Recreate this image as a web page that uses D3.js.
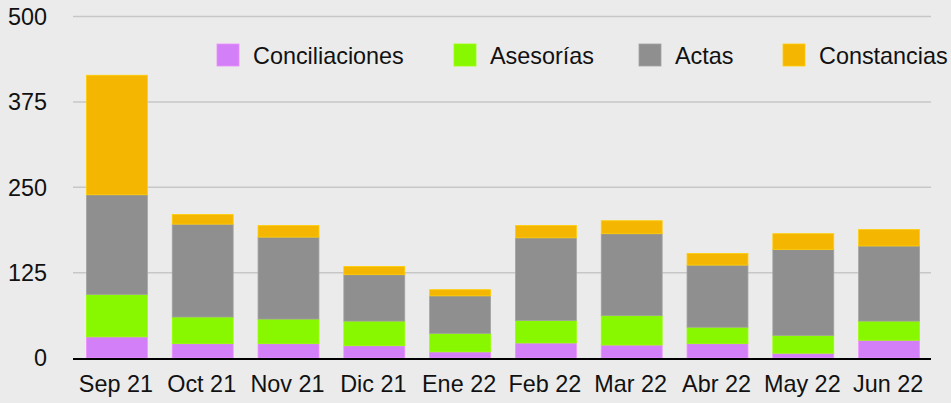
<!DOCTYPE html>
<html>
<head>
<meta charset="utf-8">
<script src="https://cdn.jsdelivr.net/npm/d3@7"></script>
<style>
  html, body { margin: 0; padding: 0; background: #ebebeb; }
  svg { display: block; }
</style>
</head>
<body>
<div id="chart"></div>
<script>
const months = ['Sep 21', 'Oct 21', 'Nov 21', 'Dic 21', 'Ene 22', 'Feb 22', 'Mar 22', 'Abr 22', 'May 22', 'Jun 22']
const seriesNames = ['Conciliaciones', 'Asesorías', 'Actas', 'Constancias']
const conciliaciones = [31, 21, 21, 18, 9, 22, 19, 21, 7, 26]
const asesorias = [62, 39, 36, 36, 27, 33, 43, 24, 26, 28]
const actas = [146, 136, 120, 68, 55, 121, 120, 91, 126, 110]
const constancias = [175, 14, 17, 12, 9, 18, 19, 17, 23, 24]
const yTicks = [0, 125, 250, 375, 500]

const colors = ['#d27ff8', '#88f800', '#8f8f8f', '#f4b600']
// legend swatch left edges, as laid out in the original
const legendX = [217, 454, 639, 783]

const W = 951, H = 403
const FONT = '"Liberation Sans", Arial, Helvetica, sans-serif'
const FS = 23.4

const svg = d3.select('#chart').append('svg')
  .attr('width', W)
  .attr('height', H)
  .style('background', '#ebebeb')
  .style('font-family', FONT)

const x = d3.scaleBand()
  .domain(months)
  .range([74, 932])
  .paddingInner(0.29)
  .paddingOuter(0.145)

const y = d3.scaleLinear()
  .domain([0, 500])
  .range([358, 16.5])

// gridlines
svg.append('g')
  .selectAll('line')
  .data(yTicks.filter(d => d > 0))
  .enter().append('line')
  .attr('x1', 73)
  .attr('x2', 931)
  .attr('y1', d => y(d))
  .attr('y2', d => y(d))
  .attr('stroke', '#c7c7c7')
  .attr('stroke-width', 1.5)

// y tick labels
svg.append('g')
  .selectAll('text')
  .data(yTicks)
  .enter().append('text')
  .attr('x', 47)
  .attr('y', d => y(d))
  .attr('dy', '0.36em')
  .attr('text-anchor', 'end')
  .attr('font-size', FS)
  .attr('fill', '#111')
  .text(d => d)

// stacked bars
const rows = months.map((m, i) => ({
  month: m,
  Conciliaciones: conciliaciones[i],
  'Asesorías': asesorias[i],
  Actas: actas[i],
  Constancias: constancias[i],
}))
const stacked = d3.stack().keys(seriesNames)(rows)

svg.append('g')
  .selectAll('g')
  .data(stacked)
  .enter().append('g')
  .attr('fill', (d, i) => colors[i])
  .attr('stroke', (d, i) => d3.color(colors[i]).brighter(0.35))
  .attr('stroke-width', 0.8)
  .selectAll('rect')
  .data(d => d)
  .enter().append('rect')
  .attr('x', d => x(d.data.month))
  .attr('width', x.bandwidth())
  .attr('y', d => y(d[1]))
  .attr('height', d => y(d[0]) - y(d[1]))

// baseline
svg.append('line')
  .attr('x1', 73)
  .attr('x2', 931)
  .attr('y1', y(0) + 1)
  .attr('y2', y(0) + 1)
  .attr('stroke', '#000')
  .attr('stroke-width', 2)

// x labels
svg.append('g')
  .selectAll('text')
  .data(months)
  .enter().append('text')
  .attr('x', d => x(d) + x.bandwidth() / 2 - 1)
  .attr('y', 392)
  .attr('text-anchor', 'middle')
  .attr('font-size', FS)
  .attr('fill', '#111')
  .text(d => d)

// legend
const legend = svg.append('g')
  .selectAll('g')
  .data(seriesNames)
  .enter().append('g')
  .attr('transform', (d, i) => `translate(${legendX[i]},44)`)

legend.append('rect')
  .attr('width', 22)
  .attr('height', 22)
  .attr('fill', (d, i) => colors[i])
  .attr('stroke', (d, i) => d3.color(colors[i]).brighter(0.35))
  .attr('stroke-width', 0.8)

legend.append('text')
  .attr('x', 36)
  .attr('y', 20)
  .attr('font-size', FS)
  .attr('fill', '#111')
  .text(d => d)
</script>
</body>
</html>
